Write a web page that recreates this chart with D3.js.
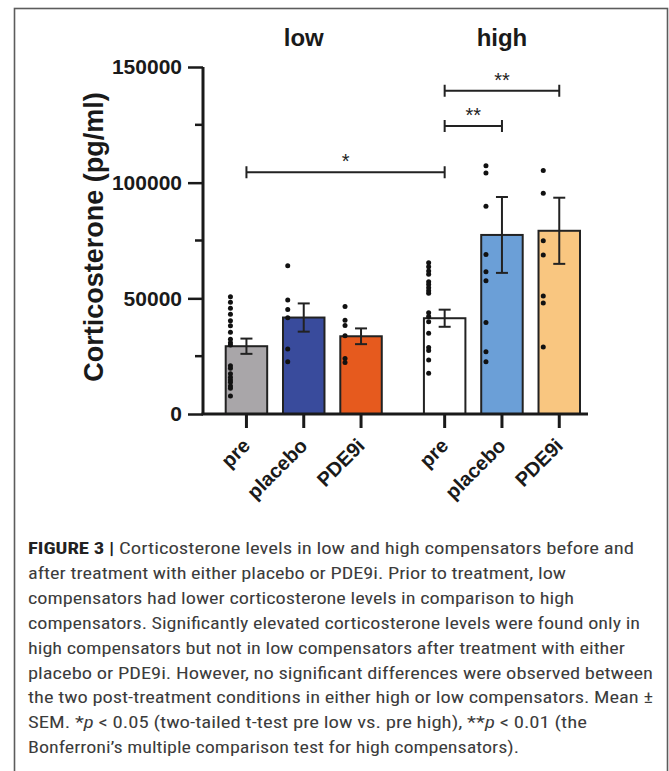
<!DOCTYPE html>
<html>
<head>
<meta charset="utf-8">
<script src="https://cdn.jsdelivr.net/npm/d3@7"></script>
<style>
  body { margin: 0; background: #fff; }
  svg { display: block; }
  .bold { font-family: "Liberation Sans", Arial, sans-serif; font-weight: bold; fill: #1a1a1a; }
  .cap { font-family: "Liberation Sans Narrow", "Roboto Condensed", "Liberation Sans", Arial, sans-serif; fill: #3c3c3c; }
</style>
</head>
<body>
<div id="chart"></div>
<script>
// data
const groups = ['low', 'high'];
const conditions = ['pre', 'placebo', 'PDE9i'];
const yTicks = [0, 50000, 100000, 150000];
const yMinor = [25000, 75000, 125000];

const lowMeans = [29300, 41700, 33600];
const lowSem = [3300, 6100, 3400];
const highMeans = [41400, 77400, 79200];
const highSem = [3700, 16400, 14300];

const lowPre = [50700, 48300, 45700, 43100, 40300, 38200, 35300, 32300, 30800, 29800, 20900, 19800, 17400, 15900, 14700, 13700, 12100, 11100, 7800];
const lowPlacebo = [64100, 49300, 45200, 41600, 28100, 22600];
const lowPDE9i = [46500, 40500, 38300, 33800, 24000, 22300];
const highPre = [65400, 63700, 61800, 60400, 57200, 56000, 54600, 53300, 52200, 43800, 42100, 39900, 34900, 28800, 27400, 23300, 17600];
const highPlacebo = [107300, 104200, 89800, 69000, 61500, 57600, 39500, 26900, 22600];
const highPDE9i = [105300, 95400, 74900, 68700, 51000, 48000, 29000];

const colors = ['#a9a6a9', '#394b9c', '#e65a1e', '#ffffff', '#6b9fd7', '#f9c680'];

const brackets = [
  {a: ['low', 'pre'], b: ['high', 'pre'], y: 104500, label: '*'},
  {a: ['high', 'pre'], b: ['high', 'placebo'], y: 124500, label: '**'},
  {a: ['high', 'pre'], b: ['high', 'PDE9i'], y: 139700, label: '**'}
];

const captionLines = [
  [['b', 'FIGURE 3 | '], ['n', 'Corticosterone levels in low and high compensators before and']],
  [['n', 'after treatment with either placebo or PDE9i. Prior to treatment, low']],
  [['n', 'compensators had lower corticosterone levels in comparison to high']],
  [['n', 'compensators. Significantly elevated corticosterone levels were found only in']],
  [['n', 'high compensators but not in low compensators after treatment with either']],
  [['n', 'placebo or PDE9i. However, no significant differences were observed between']],
  [['n', 'the two post-treatment conditions in either high or low compensators. Mean \u00b1']],
  [['n', 'SEM. *'], ['i', 'p'], ['n', ' < 0.05 (two-tailed t-test pre low vs. pre high), **'], ['i', 'p'], ['n', ' < 0.01 (the']],
  [['n', 'Bonferroni\u2019s multiple comparison test for high compensators).']]
];
const captionWidths = [606, 538, 546, 612, 597, 625, 625, 559, 491];

const table = [];
groups.forEach((g, gi) => {
  const means = gi ? highMeans : lowMeans;
  const sems = gi ? highSem : lowSem;
  const pts = gi ? [highPre, highPlacebo, highPDE9i] : [lowPre, lowPlacebo, lowPDE9i];
  conditions.forEach((c, ci) => {
    table.push({group: g, cond: c, mean: means[ci], sem: sems[ci], pts: pts[ci], color: colors[gi * 3 + ci]});
  });
});

const W = 669, H = 771;
const svg = d3.select('#chart').append('svg')
  .attr('width', W).attr('height', H);

svg.append('rect').attr('width', W).attr('height', H).attr('fill', '#fff');

// frame
svg.append('rect')
  .attr('x', 14.5).attr('y', 8.5)
  .attr('width', 653).attr('height', 800)
  .attr('fill', 'none').attr('stroke', '#5c5c5c').attr('stroke-width', 1.6);

const axisX = 203, axisY = 414;

const y = d3.scaleLinear().domain([0, 150000]).range([414, 67]);
const x0 = d3.scaleBand().domain(groups).range([225.7, 580]).paddingInner(0.2126);
const x1 = d3.scaleBand().domain(conditions).range([0, x0.bandwidth()]).paddingInner(0.276);
const cx = d => x0(d.group) + x1(d.cond) + x1.bandwidth() / 2;

const plot = svg.append('g');

// bars
plot.selectAll('.bar')
  .data(table)
  .enter()
  .append('rect')
  .attr('class', 'bar')
  .attr('x', d => x0(d.group) + x1(d.cond))
  .attr('width', x1.bandwidth())
  .attr('y', d => y(d.mean))
  .attr('height', d => y(0) - y(d.mean))
  .attr('fill', d => d.color)
  .attr('stroke', '#222')
  .attr('stroke-width', 2);

// points
table.forEach(d => {
  plot.selectAll(null)
    .data(d.pts)
    .enter()
    .append('circle')
    .attr('cx', cx(d) - 16)
    .attr('cy', v => y(v))
    .attr('r', 2.5)
    .attr('fill', '#111');
});

// error bars
const eb = plot.selectAll('.eb')
  .data(table)
  .enter()
  .append('g')
  .attr('class', 'eb')
  .attr('stroke', '#222')
  .attr('stroke-width', 2);
eb.append('line')
  .attr('x1', cx).attr('x2', cx)
  .attr('y1', d => y(d.mean + d.sem)).attr('y2', d => y(d.mean - d.sem));
eb.append('line')
  .attr('x1', d => cx(d) - 6).attr('x2', d => cx(d) + 6)
  .attr('y1', d => y(d.mean + d.sem)).attr('y2', d => y(d.mean + d.sem));
eb.append('line')
  .attr('x1', d => cx(d) - 6).attr('x2', d => cx(d) + 6)
  .attr('y1', d => y(d.mean - d.sem)).attr('y2', d => y(d.mean - d.sem));

// y axis
const yAxis = svg.append('g')
  .attr('transform', `translate(${axisX},0)`)
  .call(d3.axisLeft(y).tickValues(yTicks).tickSize(15).tickPadding(6).tickFormat(d3.format('d')));
yAxis.select('.domain').attr('d', `M0,${y(150000)}V${axisY}`).attr('stroke', '#1a1a1a').attr('stroke-width', 3);
yAxis.selectAll('.tick line').attr('stroke', '#1a1a1a').attr('stroke-width', 2.5);
yAxis.selectAll('.tick text').attr('class', 'bold').style('font-size', '21px').attr('fill', '#1a1a1a');
yAxis.selectAll('.minor')
  .data(yMinor)
  .enter()
  .append('line')
  .attr('class', 'minor')
  .attr('x1', -8).attr('x2', 0)
  .attr('y1', d => y(d)).attr('y2', d => y(d))
  .attr('stroke', '#1a1a1a').attr('stroke-width', 2.5);

// x axis
const xg = svg.append('g');
xg.append('line')
  .attr('x1', axisX - 1.5).attr('x2', 588)
  .attr('y1', axisY).attr('y2', axisY)
  .attr('stroke', '#1a1a1a').attr('stroke-width', 3);
xg.selectAll('.xt')
  .data(table)
  .enter()
  .append('line')
  .attr('class', 'xt')
  .attr('x1', cx).attr('x2', cx)
  .attr('y1', axisY).attr('y2', axisY + 14)
  .attr('stroke', '#1a1a1a').attr('stroke-width', 3);
xg.selectAll('.xl')
  .data(table)
  .enter()
  .append('text')
  .attr('class', 'bold xl')
  .attr('text-anchor', 'end')
  .style('font-size', '20px')
  .attr('transform', d => `translate(${cx(d) + 5},447) rotate(-45)`)
  .text(d => d.cond);

// group labels
svg.selectAll('.glab')
  .data(groups)
  .enter()
  .append('text')
  .attr('class', 'bold glab')
  .attr('text-anchor', 'middle')
  .style('font-size', '24px')
  .attr('x', g => x0(g) + x0.bandwidth() / 2)
  .attr('y', 46)
  .text(g => g);

// y title
svg.append('text')
  .attr('class', 'bold')
  .attr('text-anchor', 'middle')
  .style('font-size', '27px')
  .attr('transform', 'translate(103,237) rotate(-90)')
  .text('Corticosterone (pg/ml)');

// significance brackets
const bx = (k) => cx({group: k[0], cond: k[1]});
const br = svg.selectAll('.br')
  .data(brackets)
  .enter()
  .append('g')
  .attr('class', 'br');
br.append('path')
  .attr('d', d => {
    const xa = bx(d.a), xb = bx(d.b), yy = y(d.y);
    return `M${xa},${yy - 6}V${yy + 6}M${xa},${yy}H${xb}M${xb},${yy - 6}V${yy + 6}`;
  })
  .attr('fill', 'none').attr('stroke', '#222').attr('stroke-width', 2);
br.append('text')
  .attr('text-anchor', 'middle')
  .style('font-family', '"Liberation Sans", Arial, sans-serif')
  .style('font-size', '20px')
  .attr('fill', '#222')
  .attr('x', d => (bx(d.a) + bx(d.b)) / 2)
  .attr('y', d => y(d.y) - 4)
  .text(d => d.label);

// caption
const cap = svg.append('g').attr('class', 'cap');
captionLines.forEach((line, i) => {
  const t = cap.append('text')
    .attr('x', 28)
    .attr('y', 554 + i * 24.9)
    .attr('textLength', captionWidths[i])
    .attr('lengthAdjust', 'spacingAndGlyphs')
    .style('font-size', '17px');
  line.forEach(([kind, s]) => {
    const ts = t.append('tspan').text(s);
    if (kind === 'b') ts.style('font-weight', 'bold').attr('fill', '#222');
    if (kind === 'i') ts.style('font-style', 'italic');
  });
});
</script>
</body>
</html>
